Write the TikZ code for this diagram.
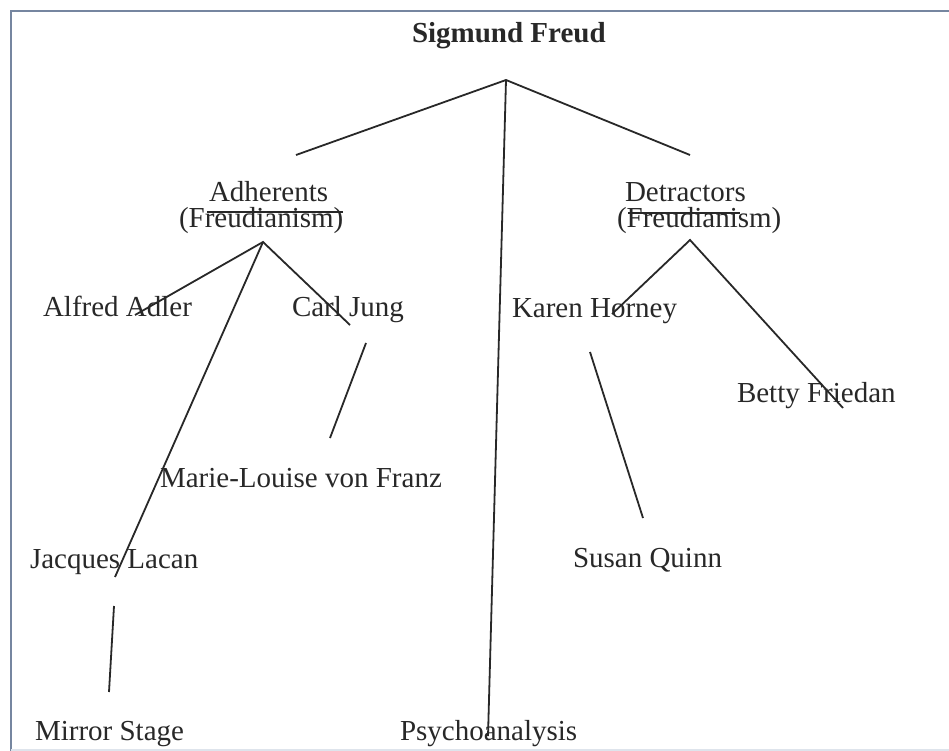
\documentclass[tikz,border=0pt]{standalone}
\usepackage{fontspec}
\setmainfont{Liberation Serif}
\definecolor{frame}{RGB}{118,134,160}
\definecolor{framelight}{RGB}{222,228,236}
\definecolor{ink}{RGB}{40,40,40}
\tikzset{
  lbl/.style={anchor=base west, inner sep=0pt, outer sep=0pt, text=ink, font=\fontsize{29}{30}\selectfont},
  ttl/.style={lbl, font=\fontsize{29}{30}\selectfont\bfseries},
  conn/.style={draw=ink, line width=1.8pt},
  frm/.style={draw=frame, line width=2.6pt}
}
\begin{document}
\begin{tikzpicture}[x=1pt,y=-1pt]
\useasboundingbox (0,0) rectangle (949,751);
\fill[white] (0,0) rectangle (949,751);
% frame
\coordinate (fTL) at (11,11);
\coordinate (fTR) at (949,11);
\coordinate (fBL) at (11,751);
\draw[frm] (fTR) -- (fTL) -- (fBL);
\draw[draw=framelight, line width=1.5pt] (11,750) -- (949,750);

% texts
\node[ttl] (freud) at (412,43) {Sigmund Freud};
\node[lbl] (adh) at (209,202) {Adherents};
\node[lbl] (adhf) at (179,228) {(Freudianism)};
\node[lbl] (det) at (625,202) {Detractors};
\node[lbl] (detf) at (617,228) {(Freudianism)};
\node[lbl] (adler) at (43,316) {Alfred Adler};
\node[lbl] (jung) at (292,316) {Carl Jung};
\node[lbl] (horney) at (512,317) {Karen Horney};
\node[lbl] (friedan) at (737,402) {Betty Friedan};
\node[lbl] (franz) at (160,487) {Marie-Louise von Franz};
\node[lbl] (lacan) at (30,568) {Jacques Lacan};
\node[lbl] (quinn) at (573,567) {Susan Quinn};
\node[lbl] (mirror) at (35,740) {Mirror Stage};
\node[lbl] (psy) at (400,740) {Psychoanalysis};

% connector end points
\coordinate (fA) at (506,80);
\coordinate (fL) at (296,155);
\coordinate (fR) at (690,155);
\coordinate (fP) at (488,736);
\coordinate (aA) at (263,242);
\coordinate (aAd) at (135,315);
\coordinate (aJu) at (350,325);
\coordinate (aLa) at (115,577);
\coordinate (aS1) at (207,212);
\coordinate (aS2) at (343,212);
\coordinate (dA) at (690,240);
\coordinate (dHo) at (612,314);
\coordinate (dFr) at (843,408);
\coordinate (dS1) at (628,213);
\coordinate (dS2) at (740,213);
\coordinate (jT) at (366,343);
\coordinate (jB) at (330,438);
\coordinate (hT) at (590,352);
\coordinate (hB) at (643,518);
\coordinate (lT) at (114,606);
\coordinate (lB) at (109,692);

% connectors
\draw[conn] (fL) -- (fA) -- (fR);
\draw[conn] (fA) -- (fP);
\draw[conn] (aAd) -- (aA) -- (aJu);
\draw[conn] (aA) -- (aLa);
\draw[conn] (aS1) -- (aS2);
\draw[conn] (dHo) -- (dA) -- (dFr);
\draw[conn] (dS1) -- (dS2);
\draw[conn] (jT) -- (jB);
\draw[conn] (hT) -- (hB);
\draw[conn] (lT) -- (lB);
\end{tikzpicture}
\end{document}
